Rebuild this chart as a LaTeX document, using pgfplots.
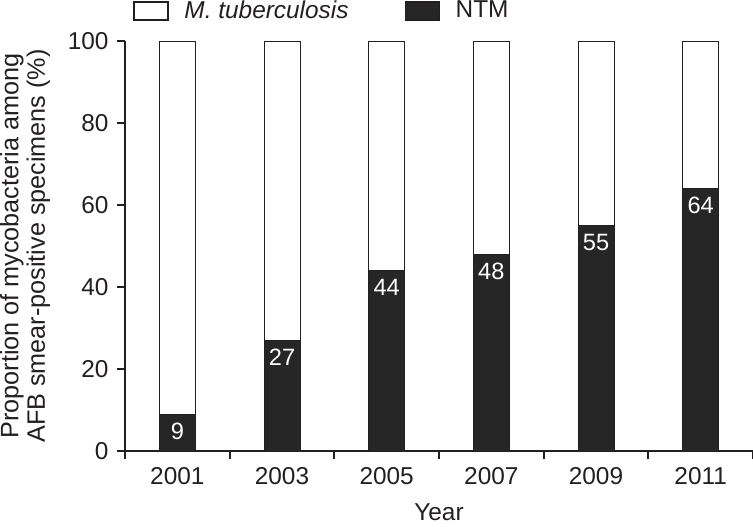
\documentclass[border=0pt]{standalone}
\usepackage{pgfplots}
\pgfplotsset{compat=1.18}
\usepackage{fontspec}
\setmainfont{Liberation Sans}
\definecolor{barfill}{HTML}{262626}
\definecolor{ink}{HTML}{231F20}
\begin{document}
\fontsize{12.2}{13.5}\selectfont
\begin{tikzpicture}
\pgfplotsset{
  commonaxis/.style={
    scale only axis, width=314pt, height=205pt,
    xmin=-0.5, xmax=5.5, ymin=0, ymax=100,
    /pgf/number format/assume math mode=true,
  }
}
\begin{axis}[
  commonaxis,
  axis x line*=bottom, axis y line*=left,
  axis line style={ink, line width=0.9pt, -},
  every tick/.style={ink, line width=0.9pt},
  tick align=outside,
  major tick length=4pt, minor tick length=4pt,
  ybar stacked, bar width=18pt,
  xtick={0,...,5}, xticklabels={2001,2003,2005,2007,2009,2011},
  major x tick style={draw=none},
  minor xtick={-0.5,0.5,...,5.5},
  ytick={0,20,...,100},
  tick label style={font=\fontsize{12.2}{13.5}\selectfont, text=ink},
  xlabel={Year},
  xlabel style={at={(axis description cs:0.5,-0.149)}, anchor=center, text=ink},
  ylabel={Proportion of mycobacteria among\\AFB smear-positive specimens (\%)},
  ylabel style={at={(axis description cs:-0.159,0.5)}, anchor=center, align=center, text=ink,
    font=\fontsize{12.6}{13.2}\selectfont},
  legend style={draw=none, fill=none, legend columns=2,
    at={(axis description cs:0.0127,1.073)}, anchor=west, inner sep=0pt,
    font=\fontsize{12.2}{13.5}\selectfont, text=ink,
    /tikz/every even column/.append style={column sep=26pt}},
  legend cell align=left,
  reverse legend,
]
\addplot[fill=barfill, draw=ink, line width=0.5pt,
  legend image code/.code={\draw[fill=barfill, draw=ink, line width=0.6pt] (0pt,-4.5pt) rectangle (17pt,4.5pt); \path (23pt,0pt);}]
  coordinates {(0,9) (1,27) (2,44) (3,48) (4,55) (5,64)};
\addplot[fill=white, draw=ink, line width=0.5pt,
  legend image code/.code={\draw[fill=white, draw=ink, line width=0.6pt] (0pt,-4.5pt) rectangle (17pt,4.5pt); \path (23pt,0pt);}]
  coordinates {(0,91) (1,73) (2,56) (3,52) (4,45) (5,36)};
\legend{NTM, \textit{M. tuberculosis}}
\end{axis}
\begin{axis}[
  commonaxis, hide axis,
]
\addplot[draw=none, mark=none,
  nodes near coords,
  every node near coord/.append style={anchor=north, text=white, font=\fontsize{11.8}{13}\selectfont}]
  coordinates {(0,9) (1,27) (2,44) (3,48) (4,55) (5,64)};
\end{axis}
\pgfresetboundingbox
\path ([shift={(-62.5pt,-37.5pt)}]current axis.south west) rectangle ([shift={(0pt,20.5pt)}]current axis.north east);
\end{tikzpicture}
\end{document}
